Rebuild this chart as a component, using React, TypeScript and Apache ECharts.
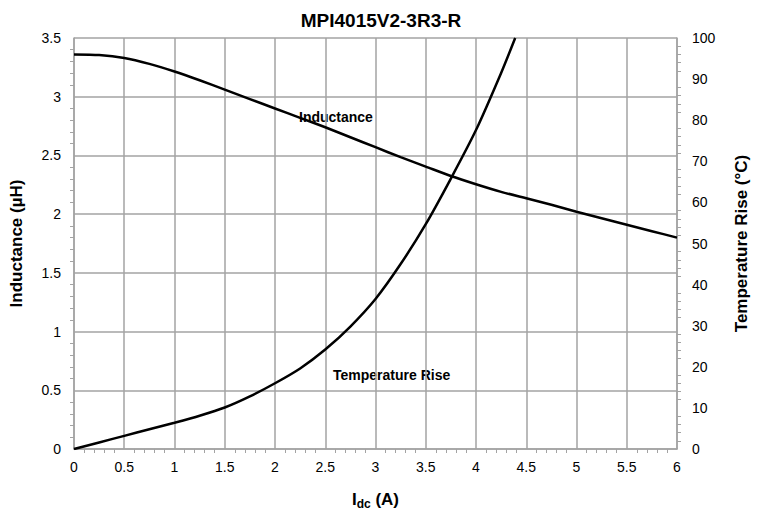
import React, { useEffect, useRef } from "react";
import * as echarts from "echarts";

const currentA = [0, 0.25, 0.5, 0.75, 1, 1.25, 1.5, 1.75, 2, 2.25, 2.5, 2.75, 3, 3.25, 3.5, 3.75, 4, 4.25, 4.5, 4.75, 5, 5.25, 5.5, 5.75, 6];
const inductance = [3.36, 3.355, 3.33, 3.28, 3.215, 3.14, 3.06, 2.98, 2.9, 2.82, 2.74, 2.655, 2.57, 2.485, 2.405, 2.325, 2.255, 2.19, 2.135, 2.08, 2.02, 1.965, 1.91, 1.855, 1.8];
const tempCurrent = [0, 0.25, 0.5, 0.75, 1, 1.25, 1.5, 1.75, 2, 2.25, 2.5, 2.75, 3, 3.25, 3.5, 3.75, 4, 4.25, 4.39];
const tempRise = [0, 1.6, 3.2, 4.8, 6.4, 8.1, 10.1, 12.8, 16, 19.6, 24.2, 29.8, 36.5, 45, 54.7, 65.8, 77.6, 91.5, 100];

const gridColor = "#a3a3a3";
const font = "'Liberation Sans', Arial, sans-serif";

export default function App() {
  const ref = useRef<HTMLDivElement>(null);
  useEffect(() => {
    const chart = echarts.init(ref.current!, null, { renderer: "svg" });
    const axisCommon = {
      axisLine: { show: true, lineStyle: { color: gridColor, width: 1.5 } },
      axisTick: { show: false },
      minorTick: { show: true, splitNumber: 5, length: 4, lineStyle: { color: gridColor, width: 1 } },
      axisLabel: { color: "#000", fontSize: 14, fontFamily: font },
    };
    chart.setOption({
      animation: false,
      title: {
        text: "MPI4015V2-3R3-R",
        left: 376,
        textAlign: "center",
        top: 6,
        textStyle: { fontSize: 19, fontWeight: "bold", fontFamily: font, color: "#000" },
      },
      grid: { left: 73, right: 90, top: 38, bottom: 66 },
      xAxis: {
        type: "value",
        min: 0,
        max: 6,
        interval: 0.5,
        ...axisCommon,
        axisLabel: { ...axisCommon.axisLabel, margin: 11 },
        splitLine: { show: true, lineStyle: { color: gridColor, width: 1.5 } },
        name: "{a|I}{b|dc}{a| (A)}",
        nameLocation: "middle",
        nameGap: 40,
        nameTextStyle: {
          rich: {
            a: { fontSize: 17, fontWeight: "bold", fontFamily: font, color: "#000" },
            b: { fontSize: 12, fontWeight: "bold", fontFamily: font, color: "#000", verticalAlign: "bottom", padding: [9, 0, 0, 0] },
          },
        },
      },
      yAxis: [
        {
          type: "value",
          min: 0,
          max: 3.5,
          interval: 0.5,
          ...axisCommon,
          axisLabel: { ...axisCommon.axisLabel, margin: 13 },
          splitLine: { show: true, lineStyle: { color: gridColor, width: 1.5 } },
          name: "Inductance (µH)",
          nameLocation: "middle",
          nameGap: 49,
          nameTextStyle: { fontSize: 17, fontWeight: "bold", fontFamily: font, color: "#000" },
        },
        {
          type: "value",
          min: 0,
          max: 100,
          interval: 10,
          position: "right",
          ...axisCommon,
          axisLabel: { ...axisCommon.axisLabel, margin: 15 },
          splitLine: { show: false },
          name: "Temperature Rise (°C)",
          nameLocation: "middle",
          nameGap: 56,
          nameRotate: 90,
          nameTextStyle: { fontSize: 17, fontWeight: "bold", fontFamily: font, color: "#000" },
        },
      ],
      series: [
        {
          type: "line",
          name: "Inductance",
          yAxisIndex: 0,
          data: currentA.map((x, i) => [x, inductance[i]]),
          smooth: 0.25,
          showSymbol: false,
          lineStyle: { color: "#000", width: 2.5 },
        },
        {
          type: "line",
          name: "Temperature Rise",
          yAxisIndex: 1,
          data: tempCurrent.map((x, i) => [x, tempRise[i]]),
          smooth: 0.25,
          showSymbol: false,
          lineStyle: { color: "#000", width: 2.5 },
        },
      ],
      graphic: [
        {
          type: "text",
          left: 299,
          top: 110,
          style: { text: "Inductance", fontSize: 14, fontWeight: "bold", fontFamily: font, fill: "#000" },
        },
        {
          type: "text",
          left: 333,
          top: 368,
          style: { text: "Temperature Rise", fontSize: 14, fontWeight: "bold", fontFamily: font, fill: "#000" },
        },
      ],
    });
    return () => chart.dispose();
  }, []);
  return <div ref={ref} style={{ width: 767, height: 515, position: "absolute", left: 0, top: 0 }} />;
}
